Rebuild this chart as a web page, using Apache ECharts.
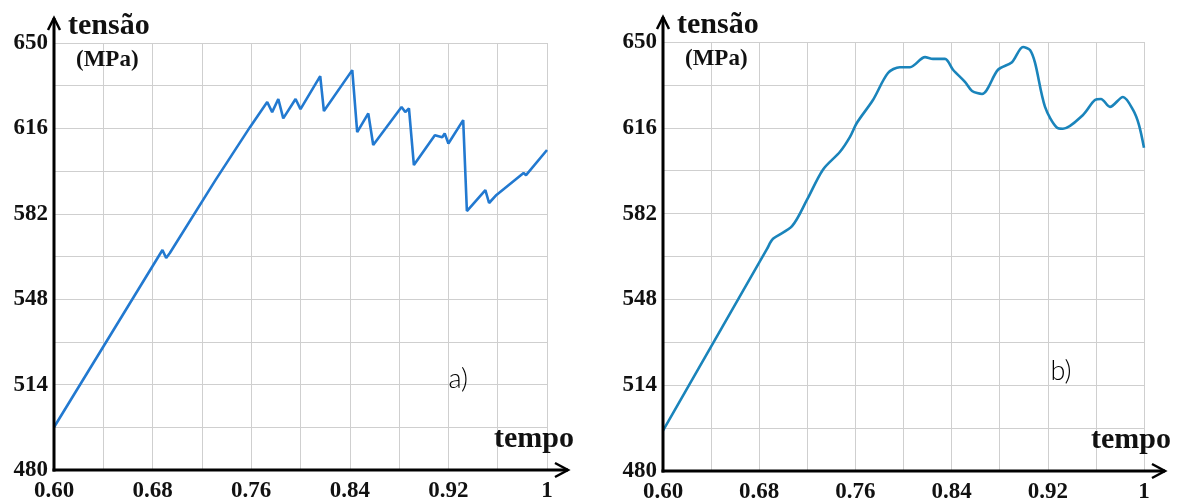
<!DOCTYPE html>
<html><head><meta charset="utf-8">
<script src="https://cdn.jsdelivr.net/npm/echarts@6/dist/echarts.min.js"></script>
<style>html,body{margin:0;padding:0;background:#fff}#c{width:1184px;height:504px}</style>
</head><body><div id="c"></div>
<script>
// ---- data ----
const tempoA = [0.600, 0.688, 0.691, 0.694, 0.731, 0.759, 0.773, 0.777, 0.782, 0.786, 0.796, 0.800, 0.816, 0.819, 0.842, 0.846, 0.855, 0.859, 0.882, 0.885, 0.888, 0.892, 0.909, 0.915, 0.917, 0.920, 0.932, 0.935, 0.950, 0.953, 0.959, 0.981, 0.983, 1.000];
const tensaoA = [497, 567.6, 564.4, 566.4, 595.4, 616.5, 626.5, 622.5, 627.7, 620, 627.7, 623.7, 636.8, 622.9, 639.2, 614.5, 622, 609.4, 624.5, 622.5, 624, 601.4, 613.3, 612.5, 614, 610, 619.3, 583.1, 591.4, 586.3, 589.5, 598.2, 597.4, 607.4];
const tempoB = [0.600, 0.6865, 0.6915, 0.7073, 0.7198, 0.733, 0.7472, 0.7555, 0.7613, 0.7746, 0.7871, 0.797, 0.8054, 0.8179, 0.8245, 0.8345, 0.8412, 0.8511, 0.857, 0.8653, 0.8786, 0.8902, 0.8994, 0.9052, 0.9094, 0.9177, 0.9277, 0.9326, 0.9493, 0.9592, 0.9642, 0.9717, 0.9825, 0.9909, 0.9958, 1.000];
const tensaoB = [496, 568, 572, 577, 587.5, 599.4, 606.5, 612.4, 618, 627, 637.7, 640, 640, 644, 643.3, 643.3, 639, 634.2, 630.6, 629.4, 639, 642, 648, 646.8, 641.7, 624.3, 616, 615.6, 621.1, 627, 627.4, 624.3, 628.2, 623.1, 617.2, 608.1];
const xTickLabels = [0.60, 0.68, 0.76, 0.84, 0.92, 1];
const yTickLabels = [480, 514, 548, 582, 616, 650];
const panelLabels = ['a)', 'b)'];
const yName = 'tensão', yUnit = '(MPa)', xName = 'tempo';

const chart = echarts.init(document.getElementById('c'), null, {renderer: 'canvas'});
const serif = 'Liberation Serif, Times New Roman, serif';
const gridColor = '#cfcfcf';

function xFmt(v) {
  const r = Math.round(v * 100);
  const hit = xTickLabels.some(t => Math.round(t * 100) === r);
  if (!hit) return '';
  return r === 100 ? '1' : (r / 100).toFixed(2);
}
function yFmt(v) {
  return yTickLabels.indexOf(Math.round(v)) >= 0 ? String(Math.round(v)) : '';
}
function xAxisCfg(gi) {
  return {
    type: 'value', gridIndex: gi, min: 0.6, max: 1.0, interval: 0.04,
    axisLine: {show: false}, axisTick: {show: false},
    splitLine: {show: true, lineStyle: {color: gridColor, width: 1}},
    axisLabel: {formatter: xFmt, fontFamily: serif, fontWeight: 'bold', fontSize: 23, color: '#111', margin: 10, showMinLabel: true, showMaxLabel: true}
  };
}
function yAxisCfg(gi) {
  return {
    type: 'value', gridIndex: gi, min: 480, max: 650, interval: 17,
    axisLine: {show: false}, axisTick: {show: false},
    splitLine: {show: true, lineStyle: {color: gridColor, width: 1}},
    axisLabel: {formatter: yFmt, fontFamily: serif, fontWeight: 'bold', fontSize: 23, color: '#111', margin: 6, showMinLabel: true, showMaxLabel: true}
  };
}
chart.setOption({
  animation: false,
  backgroundColor: '#fff',
  grid: [
    {left: 54, top: 43, width: 493, bottom: 34},
    {left: 663, top: 42, width: 481, bottom: 32}
  ],
  xAxis: [xAxisCfg(0), xAxisCfg(1)],
  yAxis: [yAxisCfg(0), yAxisCfg(1)],
  series: [
    {type: 'line', xAxisIndex: 0, yAxisIndex: 0, showSymbol: false,
     data: tempoA.map((t, i) => [t, tensaoA[i]]),
     lineStyle: {color: '#2279d0', width: 2.6}},
    {type: 'line', xAxisIndex: 1, yAxisIndex: 1, showSymbol: false, smooth: 0.3,
     data: tempoB.map((t, i) => [t, tensaoB[i]]),
     lineStyle: {color: '#1a84bb', width: 2.6}}
  ]
});

function deco(gi, panelPos) {
  const o = chart.convertToPixel({gridIndex: gi}, [0.6, 480]);
  const t = chart.convertToPixel({gridIndex: gi}, [1.0, 650]);
  const p = chart.convertToPixel({gridIndex: gi}, panelPos);
  const stroke = {stroke: '#000', lineWidth: 3, fill: null};
  const head = {stroke: '#000', lineWidth: 2.5, fill: null};
  return [
    {type: 'line', shape: {x1: o[0], y1: o[1] + 1.5, x2: o[0], y2: t[1] - 25}, style: stroke, z: 100},
    {type: 'polyline', shape: {points: [[o[0] - 6, t[1] - 13], [o[0], t[1] - 25], [o[0] + 6, t[1] - 13]]}, style: head, z: 100},
    {type: 'line', shape: {x1: o[0] - 1.5, y1: o[1], x2: t[0] + 21, y2: o[1]}, style: stroke, z: 100},
    {type: 'polyline', shape: {points: [[t[0] + 8, o[1] - 7], [t[0] + 21, o[1]], [t[0] + 8, o[1] + 7]]}, style: head, z: 100},
    {type: 'text', x: o[0] + 14, y: t[1] - 17, style: {text: yName, font: 'bold 30px ' + serif, fill: '#111', textVerticalAlign: 'middle', textAlign: 'left'}, z: 100},
    {type: 'text', x: o[0] + 22, y: t[1] + 17, style: {text: yUnit, font: 'bold 23px ' + serif, fill: '#111', textVerticalAlign: 'middle', textAlign: 'left'}, z: 100},
    {type: 'text', x: t[0] + 27, y: o[1] - 31, style: {text: xName, font: 'bold 30px ' + serif, fill: '#111', textVerticalAlign: 'middle', textAlign: 'right'}, z: 100},
    {type: 'text', x: p[0], y: p[1], style: {text: panelLabels[gi], font: '300 27px Lato, "Noto Sans", sans-serif', fill: '#000', textVerticalAlign: 'middle', textAlign: 'center'}, z: 100}
  ];
}
chart.setOption({graphic: [].concat(deco(0, [0.928, 516]), deco(1, [0.931, 519.5]))});
</script>
</body></html>
